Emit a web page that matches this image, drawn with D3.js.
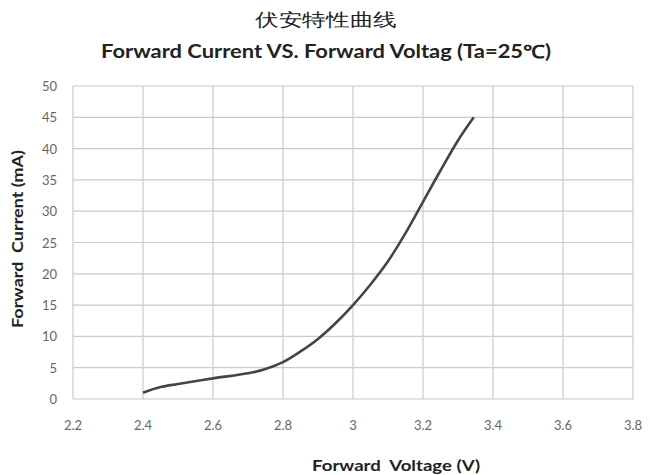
<!DOCTYPE html>
<html>
<head>
<meta charset="utf-8">
<script src="https://cdn.jsdelivr.net/npm/d3@7"></script>
<style>
  body { margin: 0; background: #fff; }
  text { font-family: Lato, "Open Sans", sans-serif; }
</style>
</head>
<body>
<script>
// Forward voltage (V) vs forward current (mA)
const voltage = [2.40, 2.45, 2.50, 2.60, 2.70, 2.75, 2.80, 2.85, 2.90, 2.95, 3.00, 3.05, 3.10, 3.15, 3.20, 3.25, 3.30, 3.345];
const current = [1.0, 1.9, 2.4, 3.3, 4.1, 4.8, 5.9, 7.6, 9.6, 12.1, 15.0, 18.3, 22.0, 26.5, 31.5, 36.5, 41.3, 45.0];
const xTicks = [2.2, 2.4, 2.6, 2.8, 3, 3.2, 3.4, 3.6, 3.8];
const yTicks = [0, 5, 10, 15, 20, 25, 30, 35, 40, 45, 50];

let w = 650;
let h = 475;
let margin = {left: 73, right: 17, top: 86, bottom: 76};

let svg = d3.select("body").append("svg")
    .attr("width", w)
    .attr("height", h);

let x = d3.scaleLinear().domain([2.2, 3.8]).range([margin.left, w - margin.right]);
let y = d3.scaleLinear().domain([0, 50]).range([h - margin.bottom, margin.top]);

// grid
svg.append("g").selectAll("line").data(xTicks).enter().append("line")
    .attr("x1", d => x(d)).attr("x2", d => x(d))
    .attr("y1", y(0)).attr("y2", y(50))
    .attr("stroke", "#cacaca").attr("stroke-width", 1.2);
svg.append("g").selectAll("line").data(yTicks).enter().append("line")
    .attr("x1", x(2.2)).attr("x2", x(3.8))
    .attr("y1", d => y(d)).attr("y2", d => y(d))
    .attr("stroke", "#cacaca").attr("stroke-width", 1.2);

// tick labels
svg.append("g").selectAll("text").data(xTicks).enter().append("text")
    .attr("x", d => x(d)).attr("y", y(0) + 31)
    .attr("text-anchor", "middle")
    .attr("font-size", 13).attr("fill", "#666")
    .text(d => d);
svg.append("g").selectAll("text").data(yTicks).enter().append("text")
    .attr("x", x(2.2) - 16).attr("y", d => y(d) + 5)
    .attr("text-anchor", "end")
    .attr("font-size", 13).attr("fill", "#666")
    .text(d => d);

// curve
let pts = voltage.map((v, i) => [v, current[i]]);
svg.append("path")
    .datum(pts)
    .attr("fill", "none")
    .attr("stroke", "#454545")
    .attr("stroke-width", 2.6)
    .attr("d", d3.line().x(d => x(d[0])).y(d => y(d[1])).curve(d3.curveCatmullRom));

// titles (the source picture is stretched sideways, so widths are pinned)
svg.append("text")
    .attr("x", 255).attr("y", 26)
    .attr("font-family", "Noto Sans CJK SC")
    .attr("font-size", 18).attr("fill", "#222")
    .attr("textLength", 142).attr("lengthAdjust", "spacingAndGlyphs")
    .text("伏安特性曲线");
svg.append("text")
    .attr("x", 101).attr("y", 58)
    .attr("font-size", 18).attr("font-weight", "bold").attr("fill", "#222")
    .attr("textLength", 450).attr("lengthAdjust", "spacingAndGlyphs")
    .text("Forward Current VS. Forward Voltag (Ta=25℃)");

svg.append("text")
    .attr("x", 312).attr("y", 471)
    .attr("font-size", 16).attr("font-weight", "bold").attr("fill", "#222")
    .attr("xml:space", "preserve")
    .attr("textLength", 168).attr("lengthAdjust", "spacingAndGlyphs")
    .text("Forward  Voltage (V)");
svg.append("text")
    .attr("transform", "translate(23, 328) rotate(-90)")
    .attr("font-size", 16).attr("font-weight", "bold").attr("fill", "#222")
    .attr("xml:space", "preserve")
    .attr("textLength", 178).attr("lengthAdjust", "spacingAndGlyphs")
    .text("Forward  Current (mA)");
</script>
</body>
</html>
